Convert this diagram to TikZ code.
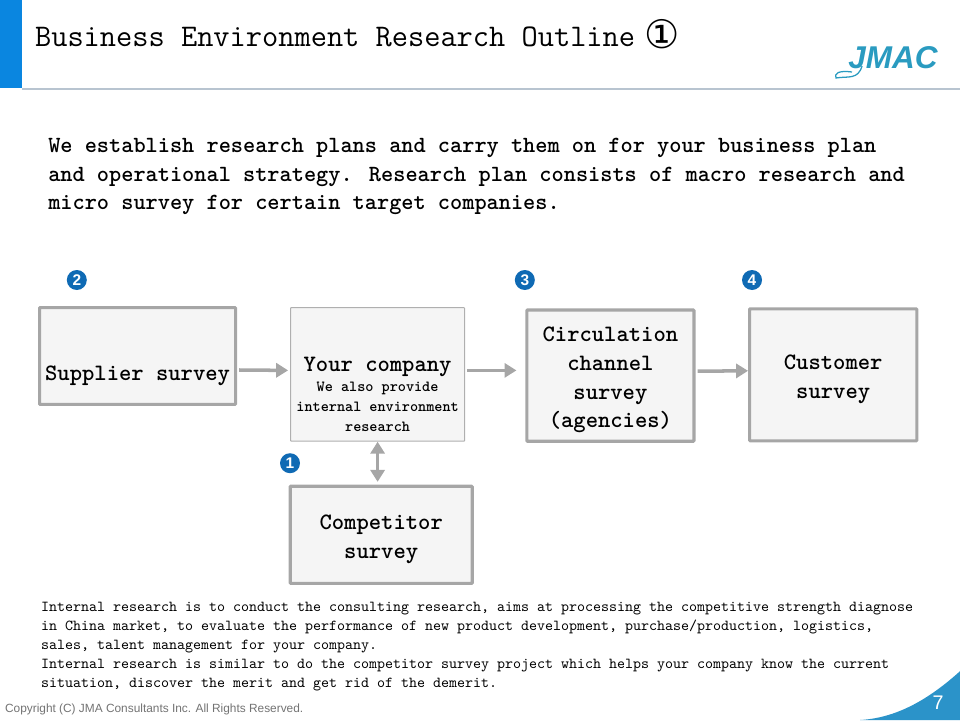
\documentclass[tikz,border=0pt]{standalone}
\usepackage{fontspec}
\usepackage{xcolor}
\usetikzlibrary{arrows.meta}
\newfontfamily\symfont{DejaVu Sans}
\newfontfamily\helvfont{Liberation Sans}
\newcommand{\detailfont}{\fontsize{11}{14.3}\selectfont}
\newcommand{\topgap}{\rule{0pt}{17pt}}
\definecolor{headblue}{HTML}{0A86E0}
\definecolor{cornerblue}{HTML}{2B93C9}
\definecolor{logoblue}{HTML}{2A9BC0}
\definecolor{badgeblue}{HTML}{0F6AB4}
\definecolor{boxgrey}{HTML}{A6A6A6}
\definecolor{boxfill}{HTML}{F5F5F5}
\definecolor{rulegrey}{HTML}{B8C4D0}
\tikzset{
    surveybox/.style={draw=boxgrey, fill=boxfill, line width=2.2pt, rounded corners=0.5pt, align=center, inner sep=0pt,
        font=\fontsize{16.7}{20.4}\selectfont\ttfamily\bfseries},
    flowarrow/.style={draw=boxgrey, line width=2.5pt, -{Triangle[length=8.5pt, width=10pt]}},
    badge/.style={circle, fill=badgeblue, text=white, inner sep=0pt, minimum size=0.5cm, font=\helvfont\bfseries\fontsize{11}{11}\selectfont},
    bodytext/.style={anchor=north west, align=left, inner sep=0pt}
}
\begin{document}
\begin{tikzpicture}
    \useasboundingbox (0,0) rectangle (24,18);
    \fill[headblue] (0,15.8) rectangle (0.55,18);
    \fill[rulegrey] (0.55,15.74) rectangle (24,15.8);

    \node[anchor=west, inner sep=0pt, font=\fontsize{22.4}{26}\selectfont\ttfamily] (title) at (0.87,17.14) {Business Environment Research Outline\hspace{7pt}\raisebox{-1.5pt}{\symfont\fontsize{28}{26}\selectfont ①}};

    \node[anchor=west, inner sep=0pt, text=logoblue, font=\helvfont\bfseries\itshape\fontsize{22.4}{26}\selectfont] (logo) at (21.2,16.57) {JMAC};
    \draw[logoblue, line width=0.9pt] (21.55,16.35) .. controls (21.45,16.0) and (21.2,16.1) .. (20.9,16.05) .. controls (20.85,16.15) and (20.95,16.25) .. (21.3,16.2);

    \node[bodytext, font=\fontsize{16.5}{20.4}\selectfont\ttfamily\bfseries] (intro) at (1.2,14.55) {We establish research plans and carry them on for your business plan\\and operational strategy. Research plan consists of macro research and\\micro survey for certain target companies.};

    \node[badge] (b2) at (1.92,11) {2};
    \node[badge] (b3) at (13.12,11) {3};
    \node[badge] (b4) at (18.8,11) {4};
    \node[badge] (b1) at (7.25,6.42) {1};

    \node[surveybox, minimum width=4.9cm, minimum height=2.42cm] (supplier) at (3.44,9.1) {\raisebox{-0.6cm}[0pt][0pt]{Supplier survey}};
    \node[surveybox, draw=boxgrey!90, line width=0.7pt, minimum width=4.35cm, minimum height=3.34cm] (company) at (9.44,8.64) {\rule{0pt}{1.35cm}Your company\\[-6pt]\detailfont We also provide\\[-6.5pt]\detailfont internal environment\\[-6.5pt]\detailfont research};
    \node[surveybox, minimum width=4.18cm, minimum height=3.28cm] (channel) at (15.26,8.61) {\topgap Circulation\\channel\\survey\\(agencies)};
    \node[surveybox, minimum width=4.18cm, minimum height=3.3cm] (customer) at (20.83,8.63) {\topgap Customer\\survey};
    \node[surveybox, minimum width=4.55cm, minimum height=2.43cm] (competitor) at (9.53,4.63) {\topgap Competitor\\survey};

    \draw[flowarrow] ([xshift=0.05cm,yshift=-0.35cm]supplier.east) -- ([xshift=-0.05cm,yshift=0.1cm]company.west);
    \draw[flowarrow] ([xshift=0.05cm,yshift=0.1cm]company.east) -- ([xshift=-0.22cm,yshift=0.13cm]channel.west);
    \draw[flowarrow] ([xshift=0.05cm,yshift=0.11cm]channel.east) -- ([yshift=0.1cm]customer.west);
    \draw[boxgrey, line width=2.5pt, {Triangle[length=8.5pt, width=10pt]}-{Triangle[length=8.5pt, width=10pt]}] (company.south) -- ([xshift=-0.09cm,yshift=0.07cm]competitor.north);

    \node[bodytext, font=\fontsize{10.84}{13.5}\selectfont\ttfamily] (notes) at (1.02,2.95) {Internal research is to conduct the consulting research, aims at processing the competitive strength diagnose\\in China market, to evaluate the performance of new product development, purchase/production, logistics,\\sales, talent management for your company.\\Internal research is similar to do the competitor survey project which helps your company know the current\\situation, discover the merit and get rid of the demerit.};

    \fill[cornerblue] (21.5,0) .. controls (22.4,0.05) and (23.2,0.5) .. (24,1.22) -- (24,0) -- cycle;
    \node[text=white, font=\helvfont\fontsize{14}{14}\selectfont] (pagenum) at (23.45,0.44) {7};
    \node[anchor=west, inner sep=0pt, text=black!55, font=\helvfont\fontsize{8.45}{10}\selectfont] (copyright) at (0.12,0.27) {Copyright (C) JMA Consultants Inc. All Rights Reserved.};
\end{tikzpicture}
\end{document}
